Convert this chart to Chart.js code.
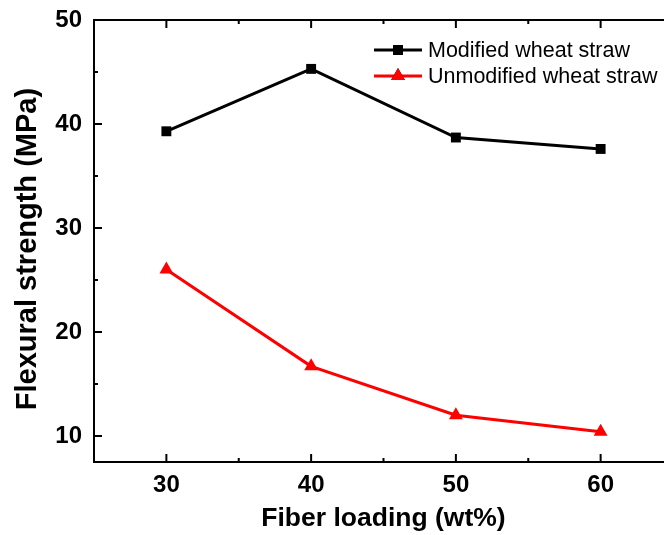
<!DOCTYPE html>
<html>
<head>
<meta charset="utf-8">
<script src="https://cdn.jsdelivr.net/npm/chart.js@4/dist/chart.umd.min.js"></script>
<style>
  html, body { margin: 0; padding: 0; background: #fff; overflow: hidden; }
  canvas { display: block; }
</style>
</head>
<body>
<canvas id="c" width="700" height="535"></canvas>
<script>
const fiberLoading = [30, 40, 50, 60];
const modifiedStrength = [39.3, 45.3, 38.7, 37.6];
const unmodifiedStrength = [26.0, 16.7, 12.0, 10.4];
const xMajorTicks = [30, 40, 50, 60];
const xMinorTicks = [35, 45, 55, 65];
const yMajorTicks = [10, 20, 30, 40, 50];
const yMinorTicks = [15, 25, 35, 45];
const seriesNames = ['Modified wheat straw', 'Unmodified wheat straw'];

const FONT = "'Liberation Sans', Arial, sans-serif";

const framePlugin = {
  id: 'frame',
  afterDatasetsDraw(chart) {
    const ctx = chart.ctx;
    const a = chart.chartArea;
    const xs = chart.scales.x, ys = chart.scales.y;
    ctx.save();
    ctx.strokeStyle = '#000';
    ctx.lineWidth = 2;
    ctx.beginPath();
    ctx.moveTo(a.left, a.top); ctx.lineTo(a.right, a.top);
    ctx.lineTo(a.right, a.bottom); ctx.lineTo(a.left, a.bottom); ctx.closePath();
    ctx.stroke();
    ctx.beginPath();
    xMajorTicks.forEach(v => {
      const px = xs.getPixelForValue(v);
      ctx.moveTo(px, a.bottom); ctx.lineTo(px, a.bottom - 8);
      ctx.moveTo(px, a.top); ctx.lineTo(px, a.top + 8);
    });
    xMinorTicks.forEach(v => {
      const px = xs.getPixelForValue(v);
      ctx.moveTo(px, a.bottom); ctx.lineTo(px, a.bottom - 4);
      ctx.moveTo(px, a.top); ctx.lineTo(px, a.top + 4);
    });
    yMajorTicks.forEach(v => {
      const py = ys.getPixelForValue(v);
      ctx.moveTo(a.left, py); ctx.lineTo(a.left + 8, py);
      ctx.moveTo(a.right, py); ctx.lineTo(a.right - 8, py);
    });
    yMinorTicks.forEach(v => {
      const py = ys.getPixelForValue(v);
      ctx.moveTo(a.left, py); ctx.lineTo(a.left + 4, py);
      ctx.moveTo(a.right, py); ctx.lineTo(a.right - 4, py);
    });
    ctx.stroke();

    // legend
    const rows = [50, 76];
    chart.data.datasets.forEach((ds, i) => {
      const y = rows[i];
      ctx.strokeStyle = ds.borderColor;
      ctx.lineWidth = 3;
      ctx.beginPath();
      ctx.moveTo(374, y); ctx.lineTo(422, y);
      ctx.stroke();
      Chart.helpers.drawPoint(ctx, {
        pointStyle: ds.pointStyle, radius: ds.pointRadius, rotation: 0, borderWidth: 0
      }, 398, y);
      ctx.fillStyle = ds.pointBackgroundColor;
      ctx.fill();
      ctx.fillStyle = '#000';
      ctx.font = "21.5px " + FONT;
      ctx.textAlign = 'left';
      ctx.textBaseline = 'middle';
      ctx.fillText(ds.label, 428, y + 1);
    });
    ctx.restore();
  }
};

new Chart(document.getElementById('c'), {
  type: 'line',
  data: {
    datasets: [
      {
        label: seriesNames[0],
        data: fiberLoading.map((x, i) => ({ x, y: modifiedStrength[i] })),
        borderColor: '#000000',
        backgroundColor: '#000000',
        pointBackgroundColor: '#000000',
        pointBorderColor: '#000000',
        borderWidth: 3,
        pointStyle: 'rect',
        pointRadius: 7,
        pointBorderWidth: 0,
        tension: 0
      },
      {
        label: seriesNames[1],
        data: fiberLoading.map((x, i) => ({ x, y: unmodifiedStrength[i] })),
        borderColor: '#ff0000',
        backgroundColor: '#ff0000',
        pointBackgroundColor: '#ff0000',
        pointBorderColor: '#ff0000',
        borderWidth: 3,
        pointStyle: 'triangle',
        pointRadius: 8,
        pointBorderWidth: 0,
        tension: 0
      }
    ]
  },
  options: {
    responsive: false,
    animation: false,
    events: [],
    layout: { padding: { top: 20, right: 27, bottom: 0, left: 0 } },
    plugins: { legend: { display: false }, tooltip: { enabled: false } },
    scales: {
      x: {
        type: 'linear',
        min: 25, max: 65,
        afterBuildTicks: s => { s.ticks = xMajorTicks.map(v => ({ value: v })); },
        afterFit: s => { s.height = 73; s.paddingLeft = 0; s.paddingRight = 0; },
        grid: { display: false, drawTicks: false },
        border: { display: false },
        ticks: {
          color: '#000',
          padding: 9,
          maxRotation: 0,
          font: { family: FONT, size: 24, weight: 'bold' }
        },
        title: {
          display: true,
          text: 'Fiber loading (wt%)',
          color: '#000',
          font: { family: FONT, size: 26.5, weight: 'bold' },
          padding: { top: 0, bottom: 0 }
        }
      },
      y: {
        type: 'linear',
        min: 7.5, max: 50,
        afterBuildTicks: s => { s.ticks = yMajorTicks.map(v => ({ value: v })); },
        afterFit: s => { s.width = 94; s.paddingTop = 0; s.paddingBottom = 0; },
        grid: { display: false, drawTicks: false },
        border: { display: false },
        ticks: {
          color: '#000',
          padding: 12,
          font: { family: FONT, size: 24, weight: 'bold' }
        },
        title: {
          display: true,
          text: 'Flexural strength (MPa)  ',
          color: '#000',
          font: { family: FONT, size: 29, weight: 'bold' },
          padding: { top: 11, bottom: 0 }
        }
      }
    }
  },
  plugins: [framePlugin]
});
</script>
</body>
</html>
